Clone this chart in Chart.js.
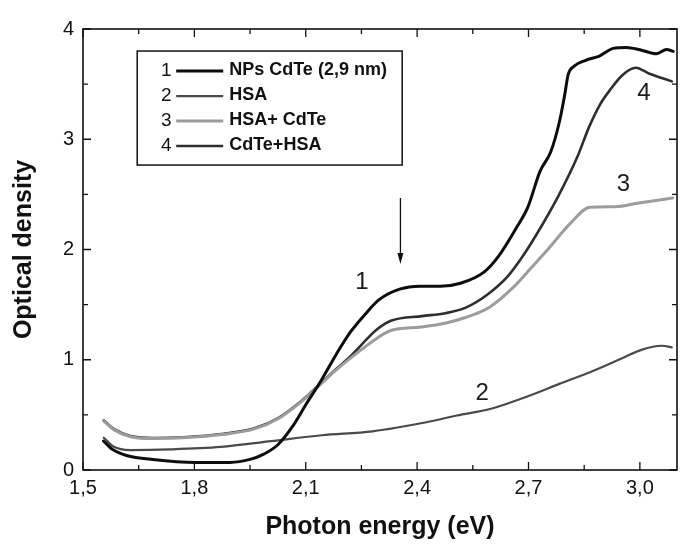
<!DOCTYPE html>
<html><head><meta charset="utf-8">
<script src="https://cdn.jsdelivr.net/npm/chart.js@4.4.1/dist/chart.umd.min.js"></script>
<style>html,body{margin:0;padding:0;background:#fff;} #wrap{width:684px;height:545px;position:relative;}</style>
</head><body><div id="wrap"><canvas id="c"></canvas></div>
<script>
// ---- data ----
const seriesNames = ['NPs CdTe (2,9 nm)', 'HSA', 'HSA+ CdTe', 'CdTe+HSA'];
const seriesNumbers = ['1', '2', '3', '4'];

const energy1 = [1.555,1.581,1.617,1.688,1.806,1.896,1.950,1.987,2.025,2.063,2.103,2.142,2.182,2.221,2.260,2.297,2.353,2.408,2.462,2.517,2.581,2.620,2.669,2.698,2.731,2.760,2.783,2.797,2.807,2.822,2.854,2.891,2.928,2.964,3.000,3.045,3.072,3.090];
const od1     = [0.263,0.183,0.132,0.095,0.069,0.069,0.096,0.144,0.229,0.388,0.608,0.814,1.048,1.254,1.413,1.543,1.640,1.667,1.667,1.694,1.797,1.942,2.206,2.382,2.709,2.886,3.154,3.393,3.588,3.661,3.716,3.755,3.824,3.833,3.812,3.775,3.815,3.797];

const energy2 = [1.556,1.582,1.627,1.735,1.871,2.007,2.143,2.280,2.425,2.507,2.599,2.691,2.783,2.875,2.949,3.004,3.059,3.086];
const od2     = [0.293,0.213,0.181,0.187,0.209,0.262,0.315,0.351,0.433,0.494,0.555,0.660,0.781,0.901,1.009,1.090,1.127,1.113];

const energy3 = [1.556,1.584,1.628,1.691,1.782,1.873,1.964,2.028,2.085,2.142,2.179,2.217,2.292,2.329,2.411,2.475,2.530,2.595,2.661,2.708,2.747,2.814,2.866,2.934,2.997,3.088];
const od3     = [0.444,0.364,0.302,0.285,0.294,0.321,0.375,0.470,0.611,0.783,0.898,1.005,1.196,1.265,1.297,1.331,1.383,1.477,1.663,1.836,1.981,2.242,2.384,2.388,2.422,2.467];

const energy4 = [1.556,1.584,1.628,1.691,1.782,1.873,1.964,2.028,2.085,2.142,2.179,2.217,2.293,2.331,2.413,2.476,2.531,2.587,2.644,2.683,2.732,2.781,2.832,2.863,2.893,2.923,2.952,2.989,3.024,3.086];
const od4     = [0.450,0.370,0.308,0.290,0.299,0.326,0.380,0.476,0.617,0.790,0.908,1.020,1.278,1.356,1.396,1.422,1.473,1.585,1.756,1.931,2.195,2.489,2.843,3.110,3.317,3.462,3.579,3.648,3.597,3.525];

const xTicks = [1.5, 1.8, 2.1, 2.4, 2.7, 3.0];
const xTickLabels = ['1,5', '1,8', '2,1', '2,4', '2,7', '3,0'];
const xMinorTicks = [1.65, 1.95, 2.25, 2.55, 2.85];
const yTicks = [0, 1, 2, 3, 4];
const yTickLabels = ['0', '1', '2', '3', '4'];
const yMinorTicks = [0.5, 1.5, 2.5, 3.5];

const curveLabelX = [2.251, 2.575, 2.956, 3.011];
const curveLabelY = [1.705, 0.698, 2.592, 3.417];
const arrowX = 2.355, arrowFromY = 2.467, arrowToY = 1.869;
const legendAnchor = [1.646, 3.80];

// ---- styles ----
const FONT = '"Liberation Sans", Arial, Helvetica, sans-serif';
const colors = ['#0d0d0d', '#4a4a4a', '#9c9c9c', '#2e2e2e'];
const widths = [3, 2.2, 3, 2.6];

Chart.defaults.font.family = FONT;
Chart.defaults.color = '#111';

const toPts = (xs, ys) => xs.map((x, i) => ({x, y: ys[i]}));
const allX = [energy1, energy2, energy3, energy4];
const allY = [od1, od2, od3, od4];

const datasets = allX.map((xs, i) => ({
  label: seriesNames[i],
  data: toPts(xs, allY[i]),
  borderColor: colors[i],
  borderWidth: widths[i],
  pointRadius: 0,
  fill: false,
  cubicInterpolationMode: 'monotone',
  borderCapStyle: 'round',
  borderJoinStyle: 'round'
}));

const decor = {
  id: 'decor',
  afterDatasetsDraw(chart) {
    const {ctx, chartArea: a, scales: {x, y}} = chart;
    ctx.save();
    // frame
    ctx.strokeStyle = '#111';
    ctx.lineWidth = 1.6;
    ctx.strokeRect(a.left, a.top, a.right - a.left, a.bottom - a.top);
    // ticks (inward, all four sides)
    ctx.lineWidth = 1.3;
    ctx.beginPath();
    const tx = (v, len) => {
      const p = x.getPixelForValue(v);
      ctx.moveTo(p, a.bottom); ctx.lineTo(p, a.bottom - len);
      ctx.moveTo(p, a.top); ctx.lineTo(p, a.top + len);
    };
    const ty = (v, len) => {
      const p = y.getPixelForValue(v);
      ctx.moveTo(a.left, p); ctx.lineTo(a.left + len, p);
      ctx.moveTo(a.right, p); ctx.lineTo(a.right - len, p);
    };
    xTicks.forEach(v => tx(v, 8));
    xMinorTicks.forEach(v => tx(v, 5));
    yTicks.forEach(v => ty(v, 8));
    yMinorTicks.forEach(v => ty(v, 5));
    ctx.stroke();

    // curve number labels
    ctx.fillStyle = '#1a1a1a';
    ctx.font = '24px ' + FONT;
    ctx.textAlign = 'center';
    ctx.textBaseline = 'middle';
    seriesNumbers.forEach((t, i) => {
      ctx.fillText(t, x.getPixelForValue(curveLabelX[i]), y.getPixelForValue(curveLabelY[i]));
    });

    // arrow
    const ax = x.getPixelForValue(arrowX);
    const ay0 = y.getPixelForValue(arrowFromY);
    const ay1 = y.getPixelForValue(arrowToY);
    ctx.strokeStyle = '#111';
    ctx.lineWidth = 1.3;
    ctx.beginPath();
    ctx.moveTo(ax, ay0); ctx.lineTo(ax, ay1 - 6);
    ctx.stroke();
    ctx.beginPath();
    ctx.moveTo(ax, ay1);
    ctx.lineTo(ax - 3, ay1 - 11);
    ctx.lineTo(ax + 3, ay1 - 11);
    ctx.closePath();
    ctx.fillStyle = '#111';
    ctx.fill();

    // legend box
    const bx = x.getPixelForValue(legendAnchor[0]);
    const by = y.getPixelForValue(legendAnchor[1]);
    const bw = 265, bh = 114;
    ctx.lineWidth = 1.5;
    ctx.strokeStyle = '#111';
    ctx.strokeRect(bx, by, bw, bh);
    seriesNames.forEach((name, i) => {
      const cy = by + 19 + i * 25;
      ctx.fillStyle = '#111';
      ctx.font = '19px ' + FONT;
      ctx.textAlign = 'center';
      ctx.textBaseline = 'middle';
      ctx.fillText(seriesNumbers[i], bx + 29, cy + 1);
      ctx.strokeStyle = colors[i];
      ctx.lineWidth = widths[i];
      ctx.beginPath();
      ctx.moveTo(bx + 39, cy + 1); ctx.lineTo(bx + 86, cy + 1);
      ctx.stroke();
      ctx.fillStyle = '#111';
      ctx.font = 'bold 18px ' + FONT;
      ctx.textAlign = 'left';
      ctx.fillText(name, bx + 92, cy);
    });
    ctx.restore();
  }
};

new Chart(document.getElementById('c'), {
  type: 'line',
  data: {datasets},
  options: {
    responsive: true,
    maintainAspectRatio: false,
    animation: false,
    layout: {padding: {top: 29, right: 7, left: 0, bottom: 0}},
    plugins: {legend: {display: false}, tooltip: {enabled: false}},
    scales: {
      x: {
        type: 'linear', min: 1.5, max: 3.1,
        grid: {display: false, drawTicks: false},
        border: {display: false},
        afterBuildTicks: s => { s.ticks = xTicks.map(v => ({value: v})); },
        afterFit: s => { s.height = 75; },
        ticks: {
          autoSkip: false, maxRotation: 0, padding: 6, color: '#111',
          font: {size: 20},
          callback: v => xTickLabels[xTicks.indexOf(v)]
        },
        title: {display: true, text: 'Photon energy (eV)', color: '#111',
          font: {size: 25, weight: 'bold'}, padding: {top: 0, bottom: 3}}
      },
      y: {
        type: 'linear', min: 0, max: 4,
        grid: {display: false, drawTicks: false},
        border: {display: false},
        afterBuildTicks: s => { s.ticks = yTicks.map(v => ({value: v})); },
        afterFit: s => { s.width = 83; },
        ticks: {
          padding: 9, color: '#111', font: {size: 20},
          callback: v => yTickLabels[yTicks.indexOf(v)]
        },
        title: {display: true, text: 'Optical density', color: '#111',
          font: {size: 25, weight: 'bold'}, padding: {top: 9, bottom: 0}}
      }
    }
  },
  plugins: [decor]
});
</script>
</body></html>
